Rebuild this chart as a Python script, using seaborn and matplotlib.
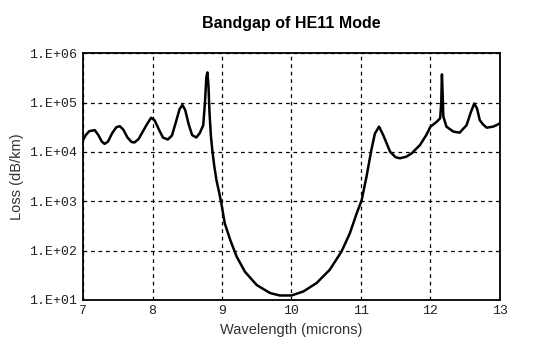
import matplotlib
matplotlib.use("Agg")
import matplotlib.pyplot as plt
import seaborn as sns
import pandas as pd

# wavelength (microns) and loss (dB/km)
wavelength = [7.00, 7.04, 7.09, 7.17, 7.22, 7.27, 7.31, 7.36, 7.42, 7.48,
              7.53, 7.58, 7.64, 7.70, 7.74, 7.80, 7.86, 7.92, 7.98, 8.03,
              8.09, 8.15, 8.22, 8.28, 8.34, 8.39, 8.43, 8.47, 8.52, 8.57,
              8.63, 8.68, 8.73, 8.755, 8.775, 8.79, 8.805, 8.82, 8.84, 8.86,
              8.89, 8.92, 8.96, 8.99, 9.04, 9.12, 9.21, 9.33, 9.50, 9.69,
              9.83, 10.00, 10.17, 10.36, 10.55, 10.72, 10.84, 10.94, 11.01, 11.08,
              11.15, 11.20, 11.26, 11.32, 11.42, 11.50, 11.56, 11.65, 11.73, 11.85,
              11.94, 12.00, 12.09, 12.14, 12.155, 12.165, 12.175, 12.185, 12.23, 12.33,
              12.42, 12.52, 12.58, 12.63, 12.67, 12.71, 12.76, 12.81, 12.90, 12.95,
              13.00]
loss = [1.74e4, 2.19e4, 2.63e4, 2.75e4, 2.19e4, 1.62e4, 1.45e4, 1.62e4, 2.40e4, 3.16e4,
        3.31e4, 2.82e4, 1.95e4, 1.58e4, 1.55e4, 1.82e4, 2.57e4, 3.63e4, 4.90e4, 4.37e4,
        2.88e4, 1.95e4, 1.78e4, 2.14e4, 4.17e4, 7.41e4, 8.91e4, 7.08e4, 3.63e4, 2.19e4,
        1.95e4, 2.40e4, 3.47e4, 1.00e5, 3.31e5, 4.07e5, 2.24e5, 6.31e4, 2.14e4, 1.10e4,
        5.01e3, 2.69e3, 1.48e3, 9.12e2, 3.55e2, 1.62e2, 75.9, 37.2, 20.0, 13.8,
        12.3, 12.3, 14.8, 21.9, 40.7, 95.5, 224, 575, 1.05e3, 3.16e3,
        1.10e4, 2.34e4, 3.24e4, 2.19e4, 1.00e4, 7.76e3, 7.41e3, 7.94e3, 9.33e3, 1.38e4,
        2.19e4, 3.24e4, 4.07e4, 4.79e4, 1.00e5, 3.72e5, 1.58e5, 5.25e4, 3.24e4, 2.57e4,
        2.45e4, 3.47e4, 6.31e4, 9.55e4, 7.59e4, 4.37e4, 3.55e4, 3.09e4, 3.24e4, 3.47e4,
        3.80e4]

y_ticks = [1e1, 1e2, 1e3, 1e4, 1e5, 1e6]
y_tick_labels = ['1.E+01', '1.E+02', '1.E+03', '1.E+04', '1.E+05', '1.E+06']
x_ticks = [7, 8, 9, 10, 11, 12, 13]

df = pd.DataFrame({'Wavelength': wavelength, 'Loss': loss})

sns.set_style("white")
plt.rcParams['font.family'] = ['Liberation Sans', 'DejaVu Sans']

fig = plt.figure(figsize=(5.37, 3.52), dpi=100)
ax = fig.add_axes([0.1546, 0.148, 0.7764, 0.701])

sns.lineplot(data=df, x='Wavelength', y='Loss', color='black', linewidth=1.8, ax=ax)

ax.set_yscale('log')
ax.set_xlim(7, 13)
ax.set_ylim(1e1, 1e6)
ax.set_xticks(x_ticks)
ax.set_xticklabels([str(t) for t in x_ticks], family='Liberation Mono', fontsize=9.5, color='#222222')
ax.set_yticks(y_ticks)
ax.set_yticklabels(y_tick_labels, family='Liberation Mono', fontsize=9.5, color='#222222')
ax.yaxis.set_minor_locator(matplotlib.ticker.NullLocator())
ax.tick_params(length=0, pad=4)

ax.grid(True, color='black', linestyle=(0, (3, 3)), linewidth=0.9)
for s in ax.spines.values():
    s.set_color('black')
    s.set_linewidth(1.3)

ax.set_title("Bandgap of HE11 Mode", fontsize=11.5, fontweight='bold', color='black', pad=18)
ax.set_xlabel("Wavelength (microns)", fontsize=10.5, color='#333333')
ax.set_ylabel("Loss (dB/km)", fontsize=10.5, color='#333333')

fig.savefig("out.png", dpi=100)
